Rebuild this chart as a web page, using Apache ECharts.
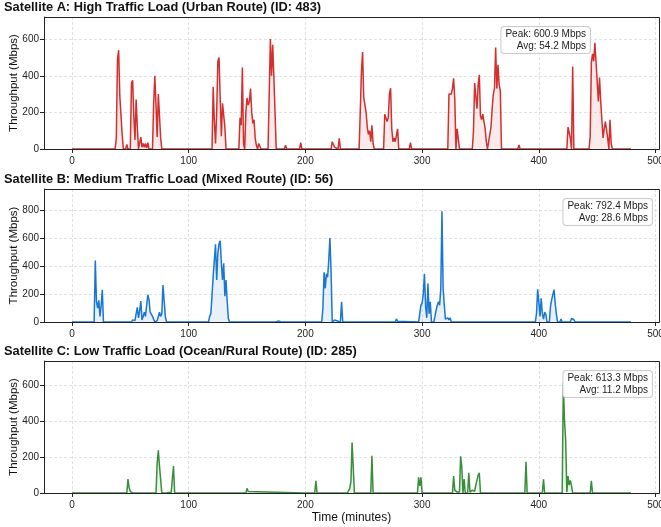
<!DOCTYPE html>
<html><head><meta charset="utf-8">
<script src="https://cdn.jsdelivr.net/npm/echarts@6/dist/echarts.min.js"></script>
<style>html,body{margin:0;padding:0;background:#fff}#c{width:661px;height:527px}</style>
</head><body><div id="c"></div><script>
const titles = [
  'Satellite A: High Traffic Load (Urban Route) (ID: 483)',
  'Satellite B: Medium Traffic Load (Mixed Route) (ID: 56)',
  'Satellite C: Low Traffic Load (Ocean/Rural Route) (ID: 285)'
];
const peakText = ['Peak: 600.9 Mbps', 'Peak: 792.4 Mbps', 'Peak: 613.3 Mbps'];
const avgText = ['Avg: 54.2 Mbps', 'Avg: 28.6 Mbps', 'Avg: 11.2 Mbps'];
const yTop = [721.08, 950.88, 735.96];
const colors = ['#d32f2f', '#1976d2', '#388e3c'];

// [minute, Mbps] vertices; baseline between listed points is 0
const satA = [[0,0],[37,0],[38,60],[39,490],[40,540],[41,290],[42,300],[43,80],[44,0],[46,0],[47,25],[48,0],[50,0],[51,360],[52,375],[53,180],[54,50],[55,270],[56,120],[57,0],[58,0],[59,65],[60,10],[61,30],[62,10],[63,30],[64,5],[65,35],[66,0],[69,0],[70,250],[71,400],[72,240],[73,65],[74,300],[75,290],[76,60],[77,0],[120,0],[121,340],[122,150],[123,30],[124,200],[125,480],[126,500],[127,280],[128,70],[129,250],[130,240],[131,120],[132,0],[143,0],[144,170],[145,130],[146,445],[147,30],[148,0],[149,200],[150,280],[151,240],[152,260],[153,330],[154,200],[155,140],[156,160],[157,60],[158,20],[159,0],[160,30],[161,35],[162,0],[168,0],[169,300],[170,600.9],[171,400],[172,570],[173,390],[174,200],[175,0],[182,0],[183,20],[184,0],[195,0],[196,35],[197,0],[222,0],[223,40],[224,35],[225,10],[226,0],[228,0],[229,58],[230,0],[246,0],[247,200],[248,420],[249,530],[250,280],[251,240],[252,200],[253,120],[254,80],[255,100],[256,40],[257,130],[258,30],[259,0],[263,0],[264,10],[265,0],[266,10],[267,0],[268,190],[269,195],[270,150],[271,170],[272,300],[273,332],[274,110],[275,40],[276,60],[277,40],[278,50],[279,110],[280,0],[289,0],[290,35],[291,0],[322,0],[323,300],[324,310],[325,300],[326,330],[327,386],[328,270],[329,0],[330,110],[331,100],[332,0],[343,0],[344,100],[345,360],[346,370],[347,220],[348,350],[349,405],[350,180],[351,160],[352,190],[353,180],[354,110],[355,40],[356,0],[357,40],[358,80],[359,120],[360,220],[361,300],[362,330],[363,555],[364,330],[365,460],[366,350],[367,320],[368,0],[382,0],[383,22],[384,0],[424,0],[425,120],[426,110],[427,60],[428,0],[429,450],[430,0],[443,0],[444,70],[445,470],[446,520],[447,480],[448,580],[449,590],[450,370],[451,260],[452,390],[453,260],[454,250],[455,60],[456,110],[457,150],[458,160],[459,60],[460,0],[461,160],[462,30],[463,0],[479,0]];

const satB = [[0,0],[19,0],[20,440],[21,150],[22,100],[23,155],[24,40],[25,120],[26,230],[27,0],[51,0],[52,15],[53,25],[54,10],[55,60],[56,105],[57,30],[58,80],[59,150],[60,15],[61,40],[62,70],[63,40],[64,120],[65,195],[66,160],[67,70],[68,80],[69,40],[70,45],[71,0],[72,0],[73,10],[74,20],[75,70],[76,40],[77,60],[78,265],[79,150],[80,40],[81,0],[117,0],[118,40],[119,60],[120,190],[121,330],[122,320],[123,555],[124,300],[125,490],[126,560],[127,580],[128,420],[129,300],[130,420],[131,185],[132,300],[133,150],[134,25],[135,0],[175,0],[176,12],[177,8],[178,10],[179,0],[214,0],[215,100],[216,355],[217,240],[218,345],[219,320],[220,440],[221,600],[222,360],[223,0],[224,0],[225,14],[226,0],[230,0],[231,145],[232,0],[277,0],[278,22],[279,5],[280,0],[297,0],[298,60],[299,120],[300,135],[301,200],[302,345],[303,110],[304,30],[305,275],[306,60],[307,145],[308,0],[310,0],[311,40],[312,85],[313,120],[314,145],[315,120],[316,240],[317,792.4],[318,240],[319,120],[320,20],[321,25],[322,30],[323,15],[324,30],[325,0],[397,0],[398,60],[399,233],[400,140],[401,40],[402,170],[403,60],[404,20],[405,70],[406,55],[407,0],[409,0],[410,110],[411,160],[412,150],[413,232],[414,135],[415,60],[416,0],[418,0],[419,22],[420,0],[427,0],[428,25],[429,28],[430,18],[431,0],[479,0]];

const satC = [[0,0],[47,0],[48,78],[49,30],[50,8],[51,5],[52,0],[59,0],[60,5],[61,0],[72,0],[73,165],[74,238],[75,150],[76,146],[77,0],[81,0],[82,5],[83,3],[84,5],[85,3],[86,0],[87,150],[88,0],[142,0],[143,5],[144,0],[149,0],[150,26],[151,8],[152,0],[199,0],[200,3],[201,0],[208,0],[209,68],[210,0],[236,0],[237,10],[238,26],[239,63],[240,282],[241,276],[242,0],[256,0],[257,207],[258,0],[296,0],[297,87],[298,40],[299,87],[300,0],[326,0],[327,94],[328,16],[329,5],[330,5],[331,0],[332,5],[333,205],[334,146],[335,0],[336,78],[337,0],[339,0],[340,113],[341,5],[342,9],[343,16],[344,5],[345,10],[346,44],[347,40],[348,100],[349,113],[350,0],[388,0],[389,174],[390,0],[403,0],[404,76],[405,0],[420,0],[421,613.3],[422,400],[423,294],[424,5],[425,94],[426,44],[427,70],[428,40],[429,0],[444,0],[445,68],[446,0],[479,0]];

const seriesData = [satA, satB, satC];
const gridTops = [17, 189, 361];
const gridHeights = [132, 133, 132];
const GL = 44, GW = 615;
const FONT = 'Liberation Sans, Arial, sans-serif';

const chart = echarts.init(document.getElementById('c'), null, {renderer: 'canvas'});
const splitLineStyle = {show: true, showMinLine: false, showMaxLine: false, lineStyle: {color: '#d9d9d9', type: [3, 2], width: 0.8}};
const boxStyle = {align: 'right', verticalAlign: 'top', font: '10px ' + FONT, fill: '#222', lineHeight: 12, backgroundColor: 'rgba(255,255,255,0.9)', borderColor: '#ccc', borderWidth: 1, borderRadius: 3, padding: [1, 4, 1, 4]};
const option = {
  backgroundColor: '#fff',
  animation: false,
  title: titles.map((t, i) => ({
    text: t, left: 4, top: gridTops[i] - 16, padding: 0,
    textStyle: {fontFamily: FONT, fontSize: 12.8, fontWeight: 'bold', color: '#111'}
  })),
  grid: gridTops.map((t, i) => ({
    left: GL, top: t, width: GW, height: gridHeights[i],
    containLabel: false, outerBoundsMode: 'none',
    show: false
  })),
  xAxis: gridTops.map((t, i) => ({
    type: 'value', gridIndex: i, min: -23.95, max: 502.95, splitNumber: 5,
    name: i === 2 ? 'Time (minutes)' : '', nameLocation: 'middle', nameGap: 19, nameMoveOverlap: false,
    nameTextStyle: {fontFamily: FONT, fontSize: 12, color: '#111', verticalAlign: 'top'},
    axisLine: {show: true, onZero: false, lineStyle: {color: '#222', width: 1}},
    axisTick: {show: true, length: 4, lineStyle: {color: '#222'}},
    axisLabel: {fontFamily: FONT, fontSize: 10, color: '#222', margin: 7, showMinLabel: false, showMaxLabel: false},
    splitLine: splitLineStyle
  })),
  yAxis: gridTops.map((t, i) => ({
    type: 'value', gridIndex: i, min: 0, max: yTop[i], interval: 200,
    name: 'Throughput (Mbps)', nameLocation: 'middle', nameGap: 24, nameMoveOverlap: false,
    nameTextStyle: {fontFamily: FONT, fontSize: 11.5, color: '#111'},
    axisLine: {show: true, onZero: false, lineStyle: {color: '#222', width: 1}},
    axisTick: {show: true, length: 4, lineStyle: {color: '#222'}},
    axisLabel: {fontFamily: FONT, fontSize: 10, color: '#222', margin: 5, showMaxLabel: false},
    splitLine: splitLineStyle
  })),
  series: seriesData.map((d, i) => ({
    type: 'line', xAxisIndex: i, yAxisIndex: i, data: d,
    showSymbol: false, symbol: 'none', smooth: false,
    lineStyle: {color: colors[i], width: 1.5},
    areaStyle: {color: colors[i], opacity: 0.1, origin: 'start'},
    z: 3
  })),
  graphic: gridTops.map((t, i) => ({
    type: 'rect', z: 50, silent: true,
    shape: {x: GL + 0.5, y: t + 0.5, width: GW, height: gridHeights[i]},
    style: {fill: 'none', stroke: '#222', lineWidth: 1}
  })).concat([
    {type: 'text', x: 590, y: 27, z: 100, style: Object.assign({text: peakText[0] + '\n' + avgText[0]}, boxStyle)},
    {type: 'text', x: 652, y: 199, z: 100, style: Object.assign({text: peakText[1] + '\n' + avgText[1]}, boxStyle)},
    {type: 'text', x: 652, y: 371, z: 100, style: Object.assign({text: peakText[2] + '\n' + avgText[2]}, boxStyle)}
  ])
};
chart.setOption(option);
</script></body></html>
